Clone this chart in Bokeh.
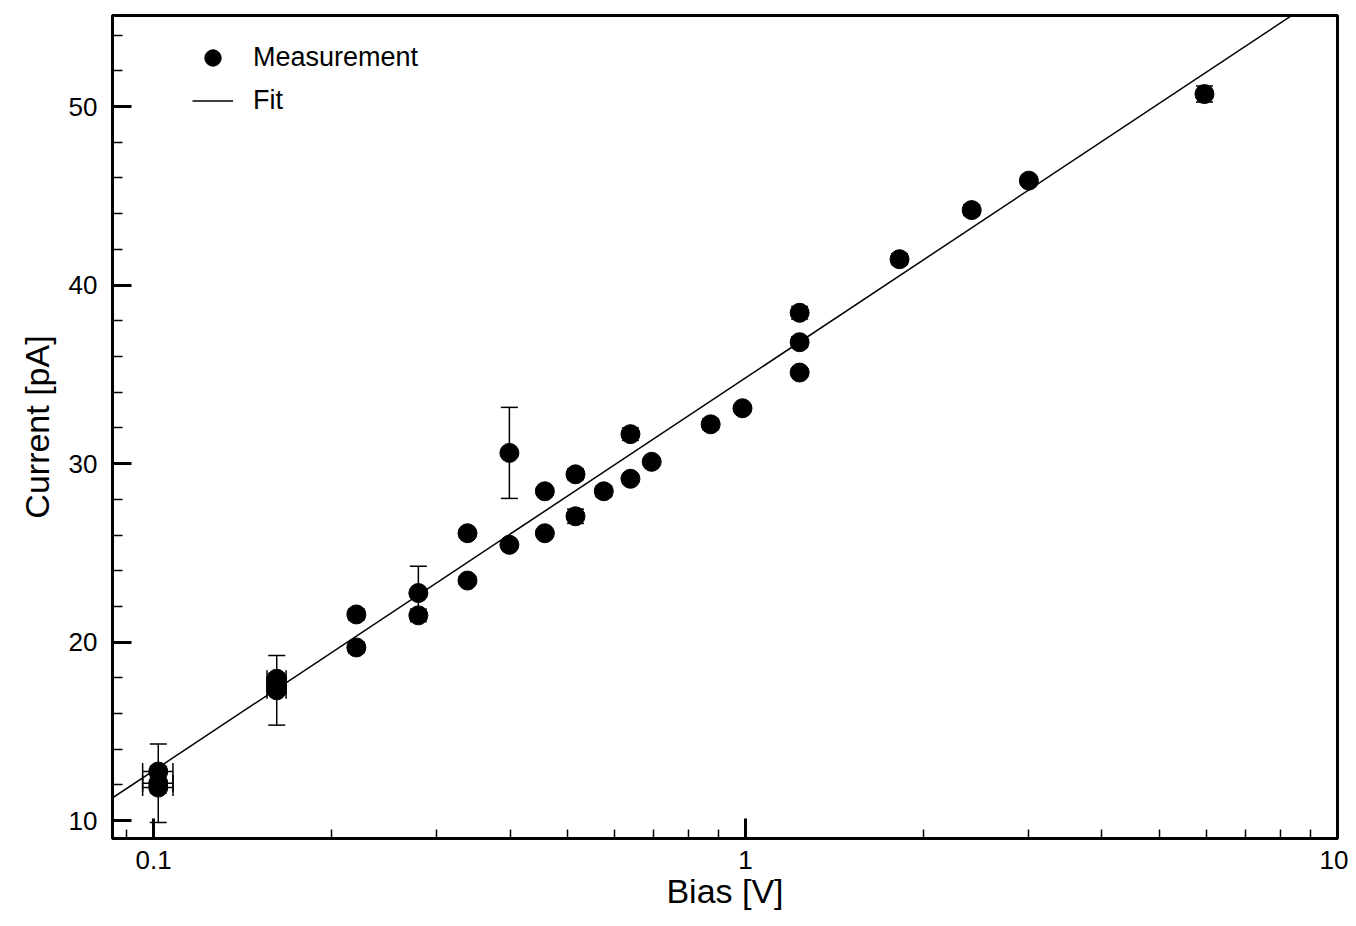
from bokeh.plotting import figure
from bokeh.models import (ColumnDataSource, Whisker, TeeHead, FixedTicker, Legend,
                          LegendItem, Range1d)
from bokeh.embed import file_html
from bokeh.resources import INLINE

# ---- data ----
bias = [0.1018, 0.1018, 0.1018, 0.1614, 0.1614, 0.1614, 0.220, 0.220, 0.280, 0.280,
        0.339, 0.339, 0.399, 0.399, 0.458, 0.458, 0.516, 0.516, 0.576, 0.639, 0.639,
        0.694, 0.873, 0.988, 1.234, 1.234, 1.234, 1.82, 2.41, 3.01, 5.96]
current = [12.75, 12.1, 11.85, 17.95, 17.6, 17.3, 21.55, 19.7, 22.75, 21.5,
           26.1, 23.45, 30.6, 25.45, 28.45, 26.1, 29.4, 27.05, 28.45, 31.65, 29.15,
           30.1, 32.2, 33.1, 38.45, 36.8, 35.1, 41.45, 44.2, 45.85, 50.7]
current_err = [0.3, 2.2, 0.3, 0.3, 0.3, 1.95, 0.3, 0.3, 1.5, 0.35,
               0.25, 0.25, 2.55, 0.2, 0.2, 0.2, 0.3, 0.4, 0.3, 0.35, 0.25,
               0.2, 0.3, 0.25, 0.35, 0.3, 0.25, 0.3, 0.3, 0.25, 0.45]
bias_err = [0.006, 0.006, 0.006, 0.006, 0.006, 0.006] + [0.0] * 25

fit_x = [0.085, 10.0]
fit_y = [11.25, 56.8]

x_major = [0.1, 1, 10]
x_minor = [0.09, 0.2, 0.3, 0.4, 0.5, 0.6, 0.7, 0.8, 0.9, 2, 3, 4, 5, 6, 7, 8, 9]
x_labels = {0.1: "0.1", 1: "1", 10: "10"}
y_major = [10, 20, 30, 40, 50]
y_minor = [12, 14, 16, 18, 22, 24, 26, 28, 32, 34, 36, 38, 42, 44, 46, 48, 52, 54]

FONT = "Liberation Sans"

src = ColumnDataSource(dict(
    x=bias, y=current,
    ylo=[c - e for c, e in zip(current, current_err)],
    yhi=[c + e for c, e in zip(current, current_err)],
))
hx = [(b, c, e) for b, c, e in zip(bias, current, bias_err) if e > 0]
hsrc = ColumnDataSource(dict(
    y=[h[1] for h in hx],
    xlo=[h[0] - h[2] for h in hx],
    xhi=[h[0] + h[2] for h in hx],
))

p = figure(width=1348, height=918, x_axis_type="log",
           x_range=Range1d(0.0852, 10), y_range=Range1d(9, 55.1),
           output_backend="svg", toolbar_location=None,
           min_border_left=112, min_border_right=11, min_border_top=15,
           min_border_bottom=80)
p.grid.visible = False
p.outline_line_color = "black"
p.outline_line_width = 3
p.background_fill_color = "white"

# error bars
vw = Whisker(source=src, base="x", lower="ylo", upper="yhi", dimension="height",
             line_color="black", line_width=1.5,
             upper_head=TeeHead(size=17, line_width=1.5, line_color="black"),
             lower_head=TeeHead(size=17, line_width=1.5, line_color="black"))
hw = Whisker(source=hsrc, base="y", lower="xlo", upper="xhi", dimension="width",
             line_color="black", line_width=1.5,
             upper_head=TeeHead(size=17, line_width=1.5, line_color="black"),
             lower_head=TeeHead(size=17, line_width=1.5, line_color="black"))
p.add_layout(vw)
p.add_layout(hw)

ln = p.line(fit_x, fit_y, line_color="black", line_width=1.5)
sc = p.scatter("x", "y", source=src, marker="circle", size=19,
               fill_color="black", line_color="black")

legend = Legend(items=[LegendItem(label="Measurement", renderers=[sc]),
                       LegendItem(label="Fit", renderers=[ln])],
                location=(80, 716), glyph_width=41, glyph_height=43,
                label_standoff=20, spacing=0, padding=0, margin=0,
                border_line_color=None, background_fill_alpha=0,
                label_text_font=FONT, label_text_font_size="27px",
                label_text_color="black", label_height=43)
p.add_layout(legend)

for ax in (p.xaxis, p.yaxis):
    ax.axis_line_width = 3
    ax.axis_line_color = "black"
    ax.major_tick_out = 0
    ax.minor_tick_out = 0
    ax.major_tick_line_width = 3
    ax.minor_tick_line_width = 1.5
    ax.major_tick_line_color = "black"
    ax.minor_tick_line_color = "black"
    ax.major_label_text_font = FONT
    ax.major_label_text_font_size = "26px"
    ax.major_label_text_color = "black"
    ax.axis_label_text_font = FONT
    ax.axis_label_text_font_size = "34px"
    ax.axis_label_text_font_style = "normal"
    ax.axis_label_text_color = "black"

p.xaxis.ticker = FixedTicker(ticks=x_major, minor_ticks=x_minor)
p.xaxis.major_label_overrides = x_labels
p.xaxis.major_tick_in = 20
p.xaxis.minor_tick_in = 9
p.xaxis.major_label_standoff = 12
p.xaxis.axis_label = "Bias [V]"
p.xaxis.axis_label_standoff = 0

p.yaxis.ticker = FixedTicker(ticks=y_major, minor_ticks=y_minor)
p.yaxis.major_tick_in = 19
p.yaxis.minor_tick_in = 10
p.yaxis.major_label_standoff = 15
p.yaxis.axis_label = "Current [pA]"
p.yaxis.axis_label_standoff = 10

open("out.html", "w").write(file_html(p, INLINE))
